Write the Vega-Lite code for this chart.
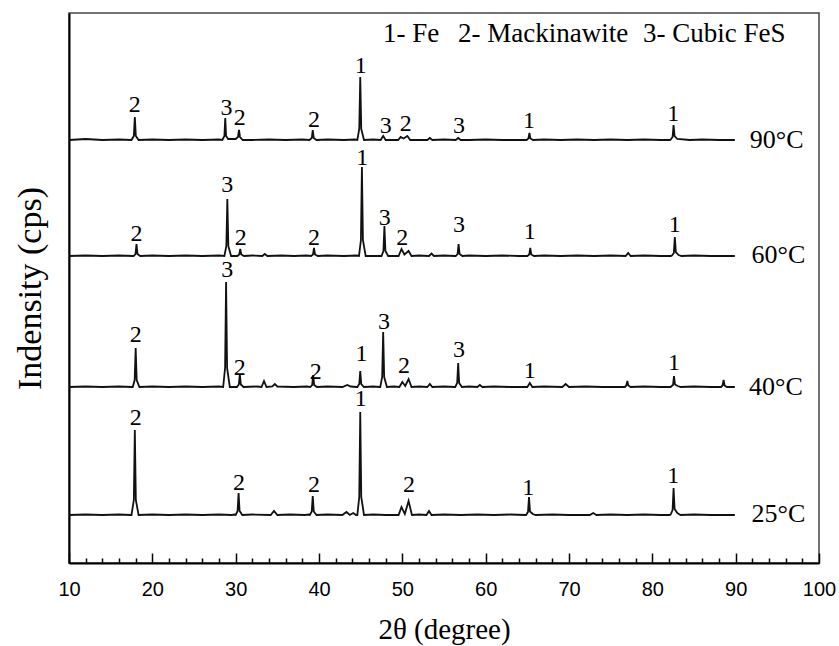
{
  "$schema": "https://vega.github.io/schema/vega-lite/v6.json",
  "width": 750,
  "height": 550,
  "autosize": {"type": "none"},
  "padding": {"left": 69, "top": 13, "right": 20, "bottom": 83},
  "background": "white",
  "config": {"view": {"stroke": "#444", "strokeWidth": 1.5}},
  "datasets": {
    "xrd": [
      {"t":"90","x":10,"y":423},{"t":"90","x":12,"y":424},{"t":"90","x":14,"y":423},{"t":"90","x":16,"y":423.5},
      {"t":"90","x":17.5,"y":423},{"t":"90","x":17.78,"y":427},{"t":"90","x":17.9,"y":446},{"t":"90","x":18.02,"y":427},{"t":"90","x":18.35,"y":423},
      {"t":"90","x":20,"y":423.5},{"t":"90","x":22,"y":423},{"t":"90","x":24,"y":423.5},{"t":"90","x":26,"y":423},{"t":"90","x":28,"y":423.5},
      {"t":"90","x":28.4,"y":423},{"t":"90","x":28.65,"y":427},{"t":"90","x":28.75,"y":445},{"t":"90","x":28.85,"y":427},{"t":"90","x":29.1,"y":424},
      {"t":"90","x":30.0,"y":424},{"t":"90","x":30.28,"y":426},{"t":"90","x":30.4,"y":433},{"t":"90","x":30.52,"y":426},{"t":"90","x":30.85,"y":423},
      {"t":"90","x":32,"y":423},{"t":"90","x":34,"y":423.5},{"t":"90","x":36,"y":423},{"t":"90","x":38,"y":423.5},
      {"t":"90","x":38.85,"y":423},{"t":"90","x":39.13,"y":425},{"t":"90","x":39.25,"y":433},{"t":"90","x":39.37,"y":425},{"t":"90","x":39.7,"y":423},
      {"t":"90","x":41,"y":423.5},{"t":"90","x":43,"y":423},{"t":"90","x":44.3,"y":423.5},
      {"t":"90","x":44.6,"y":423},{"t":"90","x":44.83,"y":434},{"t":"90","x":44.95,"y":486},{"t":"90","x":45.07,"y":434},{"t":"90","x":45.4,"y":423},
      {"t":"90","x":46.5,"y":423.5},
      {"t":"90","x":47.4,"y":423},{"t":"90","x":47.7,"y":427},{"t":"90","x":48.0,"y":423},
      {"t":"90","x":49.5,"y":423},{"t":"90","x":49.8,"y":426},{"t":"90","x":50.15,"y":424.5},{"t":"90","x":50.6,"y":427},{"t":"90","x":50.95,"y":423},
      {"t":"90","x":52.0,"y":423},{"t":"90","x":53.0,"y":423},{"t":"90","x":53.3,"y":425},{"t":"90","x":53.6,"y":423},{"t":"90","x":55,"y":423.5},
      {"t":"90","x":56.4,"y":423},{"t":"90","x":56.7,"y":425},{"t":"90","x":57.0,"y":423},
      {"t":"90","x":58,"y":423},{"t":"90","x":60,"y":423.5},{"t":"90","x":62,"y":423},{"t":"90","x":64,"y":423},
      {"t":"90","x":64.9,"y":423},{"t":"90","x":65.13,"y":424.5},{"t":"90","x":65.25,"y":430},{"t":"90","x":65.37,"y":424.5},{"t":"90","x":65.7,"y":423},
      {"t":"90","x":67,"y":423.5},{"t":"90","x":69,"y":423},{"t":"90","x":71,"y":423.5},{"t":"90","x":73,"y":423},{"t":"90","x":75,"y":423.5},{"t":"90","x":77,"y":423},{"t":"90","x":79,"y":423.5},{"t":"90","x":81,"y":423},{"t":"90","x":82.1,"y":423},
      {"t":"90","x":82.2,"y":423.5},{"t":"90","x":82.43,"y":426},{"t":"90","x":82.55,"y":438},{"t":"90","x":82.67,"y":427},{"t":"90","x":83.0,"y":424},
      {"t":"90","x":84.5,"y":423},{"t":"90","x":86,"y":423.5},{"t":"90","x":88,"y":423},{"t":"90","x":89.9,"y":423},

      {"t":"60","x":10,"y":307},{"t":"60","x":12,"y":307.5},{"t":"60","x":14,"y":307},{"t":"60","x":16,"y":307.5},{"t":"60","x":17.7,"y":307},
      {"t":"60","x":17.75,"y":307},{"t":"60","x":17.98,"y":309},{"t":"60","x":18.1,"y":319},{"t":"60","x":18.22,"y":309},{"t":"60","x":18.55,"y":307},
      {"t":"60","x":20,"y":307.5},{"t":"60","x":22,"y":307},{"t":"60","x":24,"y":307.5},{"t":"60","x":26,"y":307},{"t":"60","x":28,"y":307.5},
      {"t":"60","x":28.65,"y":307},{"t":"60","x":28.88,"y":317},{"t":"60","x":29.0,"y":364},{"t":"60","x":29.12,"y":317},{"t":"60","x":29.45,"y":307},
      {"t":"60","x":30.2,"y":307},{"t":"60","x":30.43,"y":308.5},{"t":"60","x":30.55,"y":314},{"t":"60","x":30.67,"y":308.5},{"t":"60","x":31.0,"y":307},
      {"t":"60","x":32,"y":307.5},{"t":"60","x":33.2,"y":307},{"t":"60","x":33.5,"y":309},{"t":"60","x":33.8,"y":307},{"t":"60","x":35.5,"y":307.5},{"t":"60","x":37,"y":307},{"t":"60","x":38.5,"y":307.5},
      {"t":"60","x":39.05,"y":307},{"t":"60","x":39.28,"y":308.5},{"t":"60","x":39.4,"y":315},{"t":"60","x":39.52,"y":308.5},{"t":"60","x":39.85,"y":307},
      {"t":"60","x":41,"y":307.5},{"t":"60","x":43,"y":307},{"t":"60","x":44.5,"y":307.5},
      {"t":"60","x":44.8,"y":307},{"t":"60","x":45.03,"y":323},{"t":"60","x":45.15,"y":396},{"t":"60","x":45.27,"y":323},{"t":"60","x":45.6,"y":307},
      {"t":"60","x":46.5,"y":307},
      {"t":"60","x":47.5,"y":307},{"t":"60","x":47.73,"y":312},{"t":"60","x":47.85,"y":337},{"t":"60","x":47.97,"y":312},{"t":"60","x":48.3,"y":307},
      {"t":"60","x":49.55,"y":307},{"t":"60","x":49.9,"y":314},{"t":"60","x":50.25,"y":308.5},{"t":"60","x":50.75,"y":312},{"t":"60","x":51.1,"y":307},
      {"t":"60","x":52,"y":307.5},{"t":"60","x":53.2,"y":307},{"t":"60","x":53.5,"y":309.5},{"t":"60","x":53.8,"y":307},{"t":"60","x":55,"y":307.5},{"t":"60","x":56.3,"y":307},
      {"t":"60","x":56.4,"y":307},{"t":"60","x":56.63,"y":309},{"t":"60","x":56.75,"y":319},{"t":"60","x":56.87,"y":309},{"t":"60","x":57.2,"y":307},
      {"t":"60","x":58,"y":307.5},{"t":"60","x":60,"y":307},{"t":"60","x":62,"y":307.5},{"t":"60","x":64,"y":307},
      {"t":"60","x":65.0,"y":307},{"t":"60","x":65.23,"y":308.5},{"t":"60","x":65.35,"y":315},{"t":"60","x":65.47,"y":308.5},{"t":"60","x":65.8,"y":307},
      {"t":"60","x":67,"y":307.5},{"t":"60","x":69,"y":307},{"t":"60","x":71,"y":307.5},{"t":"60","x":73,"y":307},{"t":"60","x":75,"y":307.5},{"t":"60","x":76.8,"y":307},{"t":"60","x":77.1,"y":310},{"t":"60","x":77.4,"y":307},{"t":"60","x":79,"y":307.5},{"t":"60","x":81,"y":307},{"t":"60","x":82.2,"y":307},
      {"t":"60","x":82.35,"y":307.5},{"t":"60","x":82.58,"y":310},{"t":"60","x":82.7,"y":326},{"t":"60","x":82.82,"y":311},{"t":"60","x":83.15,"y":308},{"t":"60","x":83.5,"y":307},
      {"t":"60","x":85,"y":307.5},{"t":"60","x":87,"y":307},{"t":"60","x":89.9,"y":307},

      {"t":"40","x":10,"y":176},{"t":"40","x":12,"y":176.5},{"t":"40","x":14,"y":176},{"t":"40","x":16,"y":176.5},{"t":"40","x":17.6,"y":176},
      {"t":"40","x":17.65,"y":176},{"t":"40","x":17.88,"y":183},{"t":"40","x":18.0,"y":215},{"t":"40","x":18.12,"y":183},{"t":"40","x":18.45,"y":176},
      {"t":"40","x":20,"y":176.5},{"t":"40","x":22,"y":176},{"t":"40","x":24,"y":176.5},{"t":"40","x":26,"y":176},{"t":"40","x":28,"y":176.5},
      {"t":"40","x":28.5,"y":176},{"t":"40","x":28.73,"y":195},{"t":"40","x":28.85,"y":281},{"t":"40","x":28.97,"y":195},{"t":"40","x":29.3,"y":176},
      {"t":"40","x":30.15,"y":176},{"t":"40","x":30.38,"y":178.5},{"t":"40","x":30.5,"y":189},{"t":"40","x":30.62,"y":178.5},{"t":"40","x":30.95,"y":176},
      {"t":"40","x":32.5,"y":176.5},{"t":"40","x":33.1,"y":176},{"t":"40","x":33.4,"y":182},{"t":"40","x":33.7,"y":176},{"t":"40","x":34.4,"y":176.5},{"t":"40","x":34.7,"y":179},{"t":"40","x":35.0,"y":176.5},{"t":"40","x":37,"y":176},{"t":"40","x":38.5,"y":176.5},
      {"t":"40","x":38.95,"y":176},{"t":"40","x":39.18,"y":178},{"t":"40","x":39.3,"y":188},{"t":"40","x":39.42,"y":178},{"t":"40","x":39.75,"y":176},
      {"t":"40","x":41,"y":176.5},{"t":"40","x":42.8,"y":176},{"t":"40","x":43.4,"y":178},{"t":"40","x":43.8,"y":176.5},{"t":"40","x":44.5,"y":176},
      {"t":"40","x":44.6,"y":176},{"t":"40","x":44.83,"y":179},{"t":"40","x":44.95,"y":192},{"t":"40","x":45.07,"y":179},{"t":"40","x":45.4,"y":176},
      {"t":"40","x":46.5,"y":176.5},{"t":"40","x":47.3,"y":176},
      {"t":"40","x":47.35,"y":176},{"t":"40","x":47.58,"y":186},{"t":"40","x":47.7,"y":231},{"t":"40","x":47.82,"y":186},{"t":"40","x":48.15,"y":176},
      {"t":"40","x":49,"y":176.5},
      {"t":"40","x":49.65,"y":176},{"t":"40","x":50.0,"y":181},{"t":"40","x":50.35,"y":177},{"t":"40","x":50.75,"y":184},{"t":"40","x":51.1,"y":176},
      {"t":"40","x":52,"y":176.5},{"t":"40","x":53.0,"y":176},{"t":"40","x":53.3,"y":179},{"t":"40","x":53.6,"y":176},{"t":"40","x":55,"y":176.5},{"t":"40","x":56.3,"y":176},
      {"t":"40","x":56.35,"y":176},{"t":"40","x":56.58,"y":180},{"t":"40","x":56.7,"y":200},{"t":"40","x":56.82,"y":180},{"t":"40","x":57.15,"y":176},
      {"t":"40","x":58,"y":176.5},{"t":"40","x":59.0,"y":176},{"t":"40","x":59.3,"y":178},{"t":"40","x":59.6,"y":176},{"t":"40","x":61,"y":176.5},{"t":"40","x":63,"y":176},{"t":"40","x":64.9,"y":176},
      {"t":"40","x":65.0,"y":176},{"t":"40","x":65.3,"y":180},{"t":"40","x":65.6,"y":176},
      {"t":"40","x":67,"y":176.5},{"t":"40","x":69.2,"y":176},{"t":"40","x":69.6,"y":179},{"t":"40","x":70.0,"y":176},{"t":"40","x":72,"y":176.5},{"t":"40","x":74,"y":176},{"t":"40","x":76.6,"y":176},
      {"t":"40","x":76.7,"y":176},{"t":"40","x":76.88,"y":177.5},{"t":"40","x":77.0,"y":182},{"t":"40","x":77.12,"y":177.5},{"t":"40","x":77.4,"y":176},
      {"t":"40","x":79,"y":176.5},{"t":"40","x":81,"y":176},{"t":"40","x":82.2,"y":176},
      {"t":"40","x":82.25,"y":176.5},{"t":"40","x":82.48,"y":178},{"t":"40","x":82.6,"y":187},{"t":"40","x":82.72,"y":178.5},{"t":"40","x":83.05,"y":177},{"t":"40","x":83.4,"y":176},
      {"t":"40","x":85,"y":176.5},{"t":"40","x":87,"y":176},{"t":"40","x":88.2,"y":176},
      {"t":"40","x":88.25,"y":176},{"t":"40","x":88.43,"y":177.5},{"t":"40","x":88.55,"y":183},{"t":"40","x":88.67,"y":177.5},{"t":"40","x":88.95,"y":176},
      {"t":"40","x":89.9,"y":176},

      {"t":"25","x":10,"y":48},{"t":"25","x":12,"y":48.5},{"t":"25","x":14,"y":48},{"t":"25","x":16,"y":48.5},{"t":"25","x":17.4,"y":48},
      {"t":"25","x":17.5,"y":48},{"t":"25","x":17.78,"y":63},{"t":"25","x":17.9,"y":133},{"t":"25","x":18.02,"y":63},{"t":"25","x":18.35,"y":48},
      {"t":"25","x":20,"y":48.5},{"t":"25","x":22,"y":48},{"t":"25","x":24,"y":48.5},{"t":"25","x":26,"y":48},{"t":"25","x":28,"y":48.5},{"t":"25","x":29.5,"y":48},{"t":"25","x":29.9,"y":48.5},
      {"t":"25","x":30.0,"y":48},{"t":"25","x":30.23,"y":52},{"t":"25","x":30.35,"y":70},{"t":"25","x":30.47,"y":52},{"t":"25","x":30.8,"y":48},
      {"t":"25","x":32,"y":48.5},{"t":"25","x":34.2,"y":48},{"t":"25","x":34.6,"y":52},{"t":"25","x":35.0,"y":48},{"t":"25","x":36.5,"y":48.5},{"t":"25","x":38.3,"y":48},{"t":"25","x":38.8,"y":48.5},
      {"t":"25","x":38.9,"y":48},{"t":"25","x":39.13,"y":51.5},{"t":"25","x":39.25,"y":67},{"t":"25","x":39.37,"y":51.5},{"t":"25","x":39.7,"y":48},
      {"t":"25","x":41,"y":48.5},{"t":"25","x":42.8,"y":48},{"t":"25","x":43.3,"y":51},{"t":"25","x":43.7,"y":48},{"t":"25","x":44.1,"y":50},{"t":"25","x":44.45,"y":48},
      {"t":"25","x":44.6,"y":48},{"t":"25","x":44.83,"y":66},{"t":"25","x":44.95,"y":151},{"t":"25","x":45.07,"y":66},{"t":"25","x":45.4,"y":48},
      {"t":"25","x":46.5,"y":48.5},{"t":"25","x":48,"y":48},{"t":"25","x":49.3,"y":48},
      {"t":"25","x":49.55,"y":48},{"t":"25","x":49.9,"y":56},{"t":"25","x":50.3,"y":49},{"t":"25","x":50.75,"y":62},{"t":"25","x":51.15,"y":48},
      {"t":"25","x":52,"y":48.5},{"t":"25","x":52.9,"y":48},{"t":"25","x":53.2,"y":52},{"t":"25","x":53.5,"y":48},{"t":"25","x":55,"y":48.5},{"t":"25","x":57,"y":48},{"t":"25","x":59,"y":48.5},{"t":"25","x":61,"y":48},{"t":"25","x":63,"y":48.5},{"t":"25","x":64.7,"y":48},
      {"t":"25","x":64.85,"y":48},{"t":"25","x":65.08,"y":51},{"t":"25","x":65.2,"y":66},{"t":"25","x":65.32,"y":51.5},{"t":"25","x":65.65,"y":49},{"t":"25","x":66.0,"y":48},
      {"t":"25","x":68,"y":48.5},{"t":"25","x":70,"y":48},{"t":"25","x":72.5,"y":48},{"t":"25","x":72.9,"y":50},{"t":"25","x":73.3,"y":48},{"t":"25","x":75,"y":48.5},{"t":"25","x":77,"y":48},{"t":"25","x":79,"y":48.5},{"t":"25","x":81,"y":48},{"t":"25","x":82.1,"y":48},
      {"t":"25","x":82.2,"y":48.5},{"t":"25","x":82.43,"y":53},{"t":"25","x":82.55,"y":75},{"t":"25","x":82.67,"y":54},{"t":"25","x":83.0,"y":50},{"t":"25","x":83.4,"y":48},
      {"t":"25","x":85,"y":48.5},{"t":"25","x":87,"y":48},{"t":"25","x":89.9,"y":48}
    ],
    "peaks": [
      {"x":17.9,"y":458.5,"n":"2"},{"x":28.9,"y":455,"n":"3"},{"x":30.5,"y":445,"n":"2"},{"x":39.4,"y":443.5,"n":"2"},{"x":45.0,"y":497,"n":"1"},{"x":48.0,"y":437.5,"n":"3"},{"x":50.4,"y":439,"n":"2"},{"x":56.8,"y":437,"n":"3"},{"x":65.2,"y":442,"n":"1"},{"x":82.5,"y":449,"n":"1"},
      {"x":18.1,"y":329,"n":"2"},{"x":29.0,"y":378.5,"n":"3"},{"x":30.6,"y":325.5,"n":"2"},{"x":39.4,"y":325.5,"n":"2"},{"x":45.2,"y":405.5,"n":"1"},{"x":47.9,"y":345,"n":"3"},{"x":50.0,"y":325.5,"n":"2"},{"x":56.8,"y":338.5,"n":"3"},{"x":65.3,"y":331,"n":"1"},{"x":82.7,"y":338,"n":"1"},
      {"x":18.0,"y":228,"n":"2"},{"x":29.0,"y":293,"n":"3"},{"x":30.5,"y":195.5,"n":"2"},{"x":39.6,"y":191,"n":"2"},{"x":45.1,"y":209,"n":"1"},{"x":47.8,"y":241.5,"n":"3"},{"x":50.2,"y":197.5,"n":"2"},{"x":56.8,"y":213,"n":"3"},{"x":65.3,"y":192,"n":"1"},{"x":82.6,"y":200.5,"n":"1"},
      {"x":18.0,"y":145.5,"n":"2"},{"x":30.4,"y":80.5,"n":"2"},{"x":39.4,"y":78,"n":"2"},{"x":45.0,"y":164,"n":"1"},{"x":50.8,"y":78,"n":"2"},{"x":65.1,"y":75,"n":"1"},{"x":82.5,"y":87,"n":"1"}
    ],
    "temps": [
      {"x":91.7,"y":415,"s":"90°C"},{"x":91.9,"y":299.7,"s":"60°C"},{"x":91.6,"y":168,"s":"40°C"},{"x":91.9,"y":41.3,"s":"25°C"}
    ],
    "legend": [
      {"x":47.68,"y":521.3,"s":"1- Fe"},{"x":56.68,"y":521.3,"s":"2- Mackinawite"},{"x":78.88,"y":521.3,"s":"3- Cubic FeS"}
    ]
  },
  "encoding": {
    "x": {
      "field": "x", "type": "quantitative",
      "scale": {"domain": [10, 100], "nice": false, "zero": false},
      "axis": {
        "title": "2θ (degree)",
        "values": [10,12,14,16,18,20,22,24,26,28,30,32,34,36,38,40,42,44,46,48,50,52,54,56,58,60,62,64,66,68,70,72,74,76,78,80,82,84,86,88,90,92,94,96,98,100],
        "labelExpr": "datum.value % 10 === 0 ? datum.label : ''",
        "tickSize": {"condition": {"test": "datum.value % 10 === 0", "value": -10}, "value": -5},
        "tickColor": "black", "tickWidth": 1.5,
        "domainColor": "black", "domainWidth": 2,
        "grid": false,
        "labelFont": "Liberation Sans, Arial, sans-serif", "labelFontSize": 20, "labelColor": "black",
        "labelPadding": 26, "labelFlush": false, "labelOverlap": false,
        "titleFont": "Liberation Serif, Times New Roman, serif", "titleFontSize": 29, "titleFontWeight": "normal", "titleColor": "black",
        "titlePadding": 11
      }
    },
    "y": {
      "field": "y", "type": "quantitative",
      "scale": {"domain": [0, 550], "nice": false, "zero": false},
      "axis": {
        "title": "Indensity (cps)", "ticks": false, "labels": false, "grid": false,
        "domainColor": "black", "domainWidth": 2,
        "titleFont": "Liberation Serif, Times New Roman, serif", "titleFontSize": 34, "titleFontWeight": "normal", "titleColor": "black",
        "titlePadding": 22
      }
    }
  },
  "layer": [
    {
      "data": {"name": "xrd"},
      "mark": {"type": "line", "color": "#111", "strokeWidth": 1.8, "interpolate": "linear"},
      "encoding": {"detail": {"field": "t", "type": "nominal"}}
    },
    {
      "data": {"name": "peaks"},
      "mark": {"type": "text", "font": "Liberation Serif, Times New Roman, serif", "fontSize": 24, "align": "center", "baseline": "middle", "color": "black"},
      "encoding": {"text": {"field": "n", "type": "nominal"}}
    },
    {
      "data": {"name": "temps"},
      "mark": {"type": "text", "font": "Liberation Serif, Times New Roman, serif", "fontSize": 26, "align": "left", "baseline": "alphabetic", "color": "black"},
      "encoding": {"text": {"field": "s", "type": "nominal"}}
    },
    {
      "data": {"name": "legend"},
      "mark": {"type": "text", "font": "Liberation Serif, Times New Roman, serif", "fontSize": 27, "align": "left", "baseline": "alphabetic", "color": "black"},
      "encoding": {"text": {"field": "s", "type": "nominal"}}
    }
  ]
}
